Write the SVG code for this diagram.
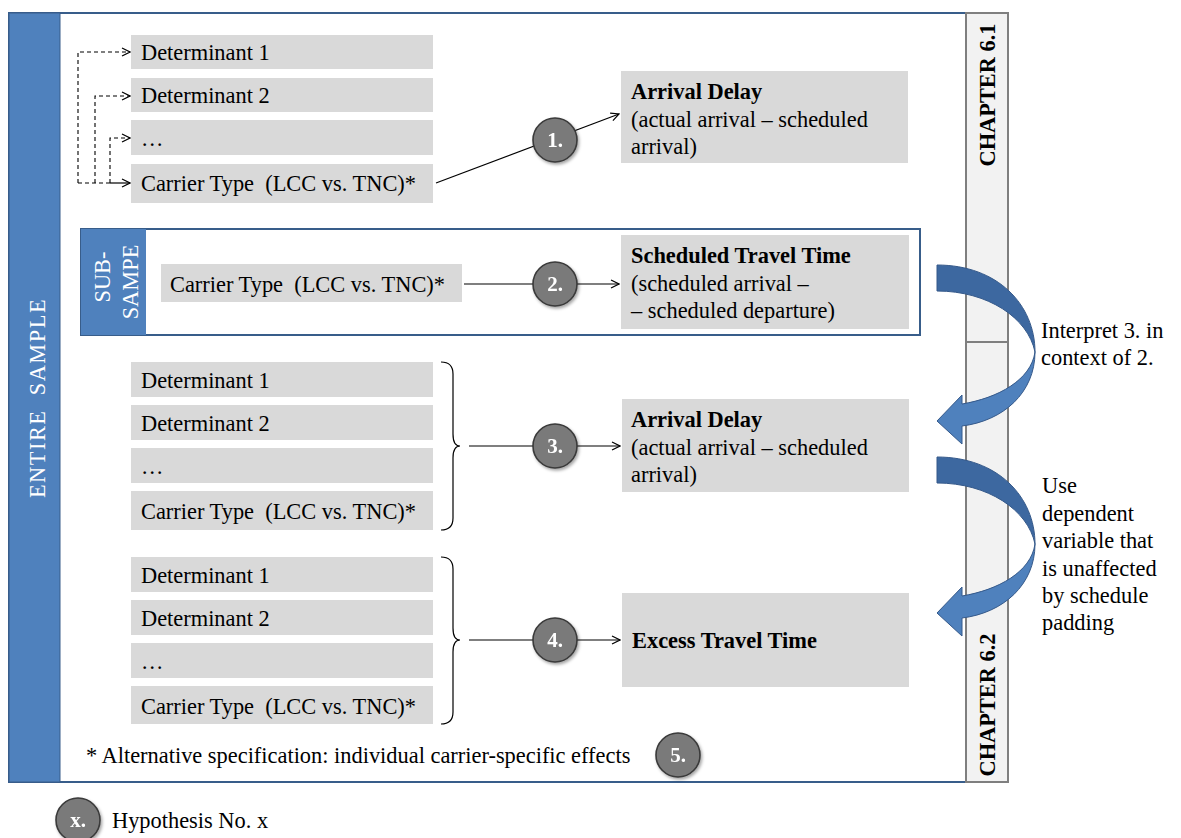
<svg xmlns="http://www.w3.org/2000/svg" width="1181" height="838" viewBox="0 0 1181 838">
<defs>
<style>
.t{font-family:"Liberation Serif","Times New Roman",serif;font-size:22.4px;fill:#000;white-space:pre}
.b{font-weight:bold}
.w{fill:#fff}
.box{fill:#d9d9d9}
.ln{stroke:#000;stroke-width:1.2;fill:none}
.dash{stroke:#000;stroke-width:1.1;fill:none;stroke-dasharray:4 3}
.circ{fill:#7a7a7a;stroke:#3a3a3a;stroke-width:1.6}
.ct{font-family:"Liberation Serif","Times New Roman",serif;font-size:21px;font-weight:bold;fill:#fff;text-anchor:middle}
.dk{fill:#3d68a0;stroke:#35598a;stroke-width:1}
.lt{fill:#4f81bd;stroke:#35598a;stroke-width:1}
</style>
<marker id="ah" markerWidth="10" markerHeight="10" refX="9" refY="5" orient="auto" markerUnits="userSpaceOnUse">
<path d="M1,1 L9,5 L1,9" fill="none" stroke="#000" stroke-width="1.2"/>
</marker>
<filter id="sh" x="-30%" y="-30%" width="160%" height="160%">
<feDropShadow dx="1.5" dy="2" stdDeviation="1.5" flood-color="#000" flood-opacity="0.35"/>
</filter>
</defs>
<rect width="1181" height="838" fill="#fff"/>

<g id="frame">
<rect x="9" y="13" width="957" height="769" fill="#fff" stroke="#385d8a" stroke-width="2"/>
<rect x="9" y="13" width="51" height="769" fill="#4f81bd" stroke="#385d8a" stroke-width="1"/>
<text class="t w" transform="translate(45,398) rotate(-90)" text-anchor="middle" letter-spacing="1.5">ENTIRE&#160; SAMPLE</text>
</g>

<g id="chapters">
<rect x="966" y="13" width="42" height="769" fill="#f2f2f2" stroke="#7f7f7f" stroke-width="2"/>
<line x1="966" y1="342" x2="1008" y2="342" stroke="#7f7f7f" stroke-width="2"/>
<text class="t b" transform="translate(995,95) rotate(-90)" text-anchor="middle">CHAPTER 6.1</text>
<text class="t b" transform="translate(995,705) rotate(-90)" text-anchor="middle">CHAPTER 6.2</text>
</g>

<g id="g1">
<rect class="box" x="131" y="35" width="302" height="34"/>
<text class="t" x="141" y="60">Determinant 1</text>
<rect class="box" x="131" y="78" width="302" height="34"/>
<text class="t" x="141" y="103">Determinant 2</text>
<rect class="box" x="131" y="120" width="302" height="35"/>
<text class="t" x="141" y="146">…</text>
<rect class="box" x="131" y="164" width="302" height="39"/>
<text class="t" x="141" y="191">Carrier Type&#160; (LCC vs. TNC)*</text>
</g>
<g id="out1">
<rect class="box" x="621" y="71" width="287" height="92"/>
<text class="t b" x="631" y="99">Arrival Delay</text>
<text class="t" x="631" y="127">(actual arrival – scheduled</text>
<text class="t" x="631" y="154">arrival)</text>
</g>

<g id="subsample">
<rect x="81" y="229" width="839" height="106" fill="#fff" stroke="#385d8a" stroke-width="2"/>
<rect x="81" y="229" width="65" height="106" fill="#4f81bd"/>
<text class="t w" transform="translate(110,277) rotate(-90)" text-anchor="middle">SUB-</text>
<text class="t w" transform="translate(138,282) rotate(-90)" text-anchor="middle">SAMPE</text>
<rect class="box" x="161" y="264" width="301" height="38"/>
<text class="t" x="170" y="292">Carrier Type&#160; (LCC vs. TNC)*</text>
</g>
<g id="out2">
<rect class="box" x="621" y="235" width="288" height="94"/>
<text class="t b" x="631" y="263">Scheduled Travel Time</text>
<text class="t" x="631" y="291">(scheduled arrival –</text>
<text class="t" x="631" y="318">– scheduled departure)</text>
</g>

<g id="g3">
<rect class="box" x="131" y="362" width="302" height="35"/>
<text class="t" x="141" y="388">Determinant 1</text>
<rect class="box" x="131" y="405" width="302" height="35"/>
<text class="t" x="141" y="431">Determinant 2</text>
<rect class="box" x="131" y="448" width="302" height="35"/>
<text class="t" x="141" y="474">…</text>
<rect class="box" x="131" y="491" width="302" height="39"/>
<text class="t" x="141" y="519">Carrier Type&#160; (LCC vs. TNC)*</text>
</g>
<g id="out3">
<rect class="box" x="622" y="399" width="287" height="93"/>
<text class="t b" x="631" y="427">Arrival Delay</text>
<text class="t" x="631" y="455">(actual arrival – scheduled</text>
<text class="t" x="631" y="482">arrival)</text>
</g>

<g id="g4">
<rect class="box" x="131" y="557" width="302" height="35"/>
<text class="t" x="141" y="583">Determinant 1</text>
<rect class="box" x="131" y="600" width="302" height="35"/>
<text class="t" x="141" y="626">Determinant 2</text>
<rect class="box" x="131" y="643" width="302" height="35"/>
<text class="t" x="141" y="669">…</text>
<rect class="box" x="131" y="686" width="302" height="38"/>
<text class="t" x="141" y="714">Carrier Type&#160; (LCC vs. TNC)*</text>
</g>
<g id="out4">
<rect class="box" x="622" y="593" width="287" height="94"/>
<text class="t b" x="632" y="648">Excess Travel Time</text>
</g>

<g id="connectors">
<path class="dash" d="M78,183 V52 H130" marker-end="url(#ah)"/>
<path class="dash" d="M95,183 V96 H130" marker-end="url(#ah)"/>
<path class="dash" d="M110,183 V138 H130" marker-end="url(#ah)"/>
<path class="dash" d="M78,183 H110"/>
<path class="ln" d="M110,183 H130" marker-end="url(#ah)"/>
<path class="ln" d="M436,183 L619,114" marker-end="url(#ah)"/>
<path class="ln" d="M464,284 H619" marker-end="url(#ah)"/>
<path class="ln" d="M441,362 Q453,362 453,374 V434 Q453,446 460,446 Q453,446 453,458 V518 Q453,530 441,530"/>
<path class="ln" d="M469,446 H620" marker-end="url(#ah)"/>
<path class="ln" d="M441,557 Q453,557 453,569 V628 Q453,640 460,640 Q453,640 453,652 V712 Q453,724 441,724"/>
<path class="ln" d="M469,640 H620" marker-end="url(#ah)"/>
</g>

<g id="h1" filter="url(#sh)"><circle class="circ" cx="555" cy="140" r="22"/><text class="ct" x="555" y="147">1.</text></g>
<g id="h2" filter="url(#sh)"><circle class="circ" cx="555" cy="284" r="22"/><text class="ct" x="555" y="291">2.</text></g>
<g id="h3" filter="url(#sh)"><circle class="circ" cx="555" cy="446" r="22"/><text class="ct" x="555" y="453">3.</text></g>
<g id="h4" filter="url(#sh)"><circle class="circ" cx="555" cy="640" r="22"/><text class="ct" x="555" y="647">4.</text></g>
<g id="h5" filter="url(#sh)"><circle class="circ" cx="678" cy="755" r="22"/><text class="ct" x="678" y="762">5.</text></g>

<g id="curve1">
<path class="lt" d="M1035,352 C1035,393 1003,421 962,426 L962,444 L937,421 L962,395 L962,404 C998,398 1031,380 1035,352 Z"/>
<path class="dk" d="M937,265 C998,265 1035,305 1035,352 C1028,318 988,291 937,291 Z"/>
</g>
<g id="curve2">
<path class="lt" d="M1035,544 C1035,585 1003,613 962,618 L962,636 L937,613 L962,587 L962,596 C998,590 1031,572 1035,544 Z"/>
<path class="dk" d="M937,457 C998,457 1035,497 1035,544 C1028,510 988,483 937,483 Z"/>
</g>
<g id="notes">
<text class="t" x="1041" y="338">Interpret 3. in</text>
<text class="t" x="1041" y="365">context of 2.</text>
<text class="t" x="1042" y="493">Use</text>
<text class="t" x="1042" y="521">dependent</text>
<text class="t" x="1042" y="548">variable that</text>
<text class="t" x="1042" y="576">is unaffected</text>
<text class="t" x="1042" y="603">by schedule</text>
<text class="t" x="1042" y="630">padding</text>
</g>

<g id="footnote">
<text class="t" x="86" y="763">* Alternative specification: individual carrier-specific effects</text>
</g>
<g id="legend">
<g filter="url(#sh)"><circle class="circ" cx="78" cy="820" r="22"/><text class="ct" x="78" y="827">x.</text></g>
<text class="t" x="112" y="828">Hypothesis No. x</text>
</g>
</svg>
